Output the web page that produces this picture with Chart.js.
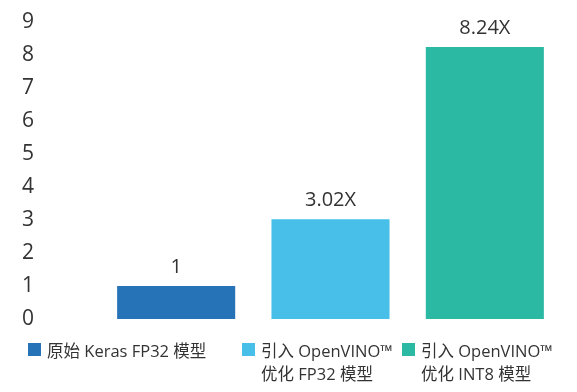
<!DOCTYPE html>
<html lang="zh">
<head>
<meta charset="UTF-8">
<title>OpenVINO 推理加速对比</title>
<style>
    body {
        margin: 0;
        background: #fff;
        font-family: "Open Sans", "Noto Sans CJK SC", sans-serif;
    }
    .wrap {
        position: relative;
        width: 577px;
        height: 392px;
    }
    canvas {
        display: block;
    }
    .legend-item {
        position: absolute;
        top: 339px;
        display: flex;
        align-items: flex-start;
        font-size: 16.5px;
        line-height: 23px;
        color: #333;
    }
    .legend-box {
        width: 13px;
        height: 13px;
        margin-top: 4px;
        margin-right: 6px;
        flex: none;
    }
</style>
<script src="https://cdn.jsdelivr.net/npm/chart.js"></script>
</head>
<body>
<div class="wrap">
    <canvas id="chart" width="577" height="392"></canvas>
    <div id="legend"></div>
</div>
<script>
    // data
    const categories = [
        ['原始 Keras FP32 模型'],
        ['引入 OpenVINO™', '优化 FP32 模型'],
        ['引入 OpenVINO™', '优化 INT8 模型']
    ];
    const speedup = [1, 3.02, 8.24];
    const valueLabels = ['1', '3.02X', '8.24X'];
    const yTicks = [0, 1, 2, 3, 4, 5, 6, 7, 8, 9];

    const colors = ['#2773b7', '#47bfe9', '#2bb9a3'];
    const legendLeft = [28, 242, 402];

    // labels above each bar
    const valueLabelPlugin = {
        id: 'valueLabels',
        afterDatasetsDraw(chart) {
            const ctx = chart.ctx;
            const meta = chart.getDatasetMeta(0);
            ctx.save();
            ctx.font = '20px "Open Sans"';
            ctx.fillStyle = '#333';
            ctx.textAlign = 'center';
            ctx.textBaseline = 'middle';
            meta.data.forEach((bar, i) => {
                ctx.fillText(valueLabels[i], bar.x, bar.y - 19);
            });
            ctx.restore();
        }
    };

    new Chart(document.getElementById('chart'), {
        type: 'bar',
        data: {
            labels: categories.map(c => c.join(' ')),
            datasets: [{
                data: speedup,
                backgroundColor: colors,
                borderWidth: 0,
                barPercentage: 0.765,
                categoryPercentage: 1
            }]
        },
        options: {
            responsive: false,
            animation: false,
            layout: {
                padding: { top: 22, right: 15, bottom: 73, left: 22 }
            },
            plugins: {
                legend: { display: false },
                tooltip: { enabled: false }
            },
            scales: {
                x: { display: false },
                y: {
                    min: yTicks[0],
                    max: yTicks[yTicks.length - 1],
                    afterBuildTicks(scale) {
                        scale.ticks = yTicks.map(v => ({ value: v }));
                    },
                    afterFit(scale) {
                        scale.width = 77;
                    },
                    grid: { display: false, drawTicks: false },
                    border: { display: false },
                    ticks: {
                        padding: 0,
                        crossAlign: 'far',
                        color: '#333',
                        font: { family: 'Open Sans', size: 21 }
                    }
                }
            }
        },
        plugins: [valueLabelPlugin]
    });

    // html legend under the chart
    const legend = document.getElementById('legend');
    categories.forEach((lines, i) => {
        const item = document.createElement('div');
        item.className = 'legend-item';
        item.style.left = legendLeft[i] + 'px';
        const box = document.createElement('span');
        box.className = 'legend-box';
        box.style.background = colors[i];
        const text = document.createElement('div');
        text.innerHTML = lines.join('<br>');
        item.appendChild(box);
        item.appendChild(text);
        legend.appendChild(item);
    });
</script>
</body>
</html>
